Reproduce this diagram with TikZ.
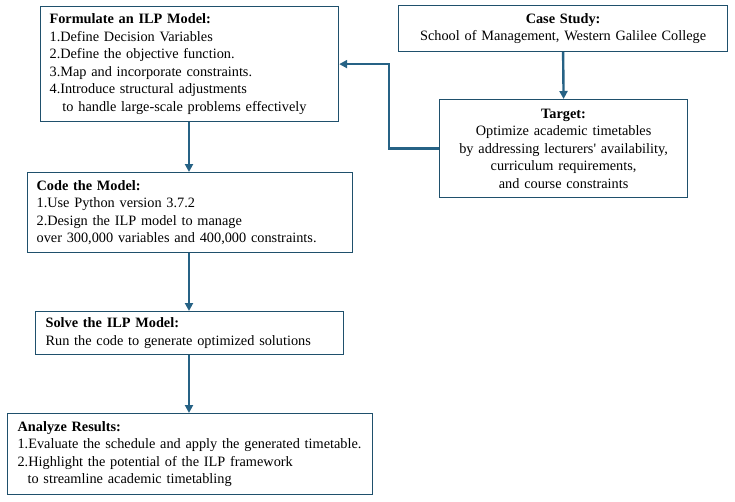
\documentclass[tikz,border=0pt]{standalone}
\usepackage{fontspec}
\setmainfont{Liberation Serif}
\usepackage{tikz}
\usetikzlibrary{positioning, arrows.meta}
\definecolor{boxc}{RGB}{31,80,108}
\definecolor{arrc}{RGB}{38,98,133}

\begin{document}
\begin{tikzpicture}[x=1pt, y=-1pt]
                \tikzset{
                    box/.style={draw=boxc, line width=1.2pt, anchor=north west, inner ysep=0pt,
                        font=\fontsize{14.3}{17.5}\selectfont},
                    lbox/.style={box, align=left, inner xsep=9pt},
                    cbox/.style={box, align=center, inner xsep=4pt},
                    flow/.style={draw=arrc, line width=2.4pt, -{Triangle[width=8pt, length=8pt]}}
                }
                \useasboundingbox (0,0) rectangle (735,501);

                % LEFT COLUMN
                \node[lbox, text width=280pt, minimum height=115pt] (form) at (40,6)
                    {\textbf{Formulate an ILP Model:}\\
                     1.Define Decision Variables\\
                     2.Define the objective function.\\
                     3.Map and incorporate constraints.\\
                     4.Introduce structural adjustments\\
                     \hspace*{0.9em}to handle large-scale problems effectively};
                \node[lbox, text width=307pt, minimum height=80pt] (code) at (27,172)
                    {\textbf{Code the Model:}\\
                     1.Use Python version 3.7.2\\
                     2.Design the ILP model to manage\\
                     over 300,000 variables and 400,000 constraints.};
                \node[lbox, inner xsep=10pt, text width=288pt, minimum height=43pt] (solve) at (35,311)
                    {\textbf{Solve the ILP Model:}\\
                     Run the code to generate optimized solutions};
                \node[lbox, inner xsep=10pt, text width=345pt, minimum height=81pt] (anlz) at (7,413)
                    {\textbf{Analyze Results:}\\
                     1.Evaluate the schedule and apply the generated timetable.\\
                     2.Highlight the potential of the ILP framework\\
                     \hspace*{0.7em}to streamline academic timetabling};

                % RIGHT COLUMN
                \node[cbox, text width=321pt, minimum height=46pt] (case) at (398,5)
                    {\textbf{Case Study:}\\
                     School of Management, Western Galilee College};
                \node[cbox, text width=240pt, minimum height=98pt] (tgt) at (439,99)
                    {\textbf{Target:}\\
                     Optimize academic timetables\\
                     by addressing lecturers\textquotesingle{} availability,\\
                     curriculum requirements,\\
                     and course constraints};

                % ARROWS
                \path
                    (form.south -| 189,0) edge[flow] (code.north -| 189,0)
                    (code.south -| 189,0) edge[flow] (solve.north -| 189,0)
                    (solve.south -| 189,0) edge[flow] (anlz.north -| 189,0)
                    (case.south) edge[flow] (tgt.north);
                \draw[flow] (tgt.west) -- ++(-50,0) |- (form.east);

            \end{tikzpicture}
\end{document}
